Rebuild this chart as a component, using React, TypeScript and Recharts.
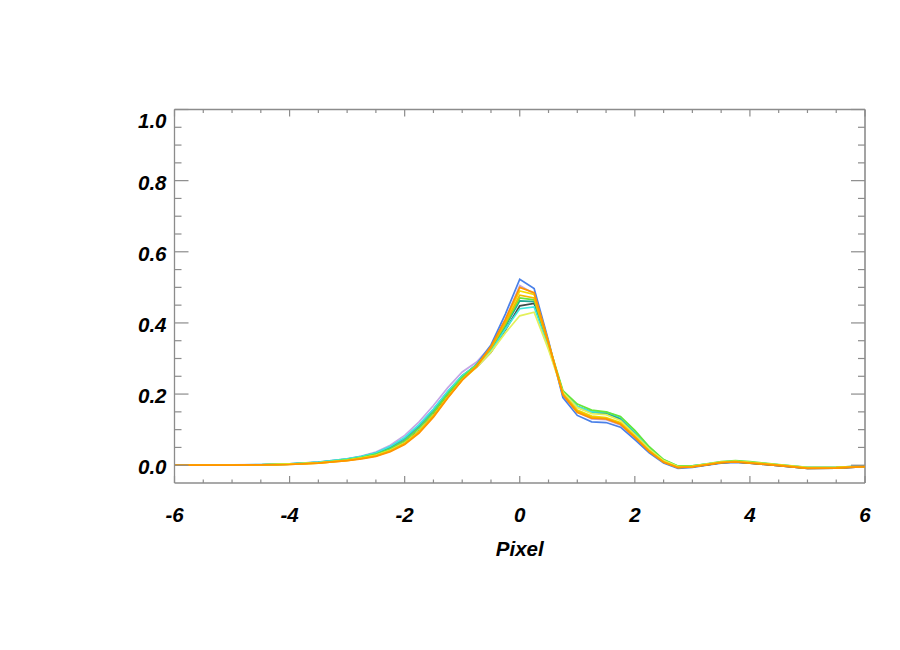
import React from 'react';
import { LineChart, Line, XAxis, YAxis, ReferenceLine, Label } from 'recharts';

const X = [-6, -5.5, -5, -4.5, -4, -3.5, -3, -2.75, -2.5, -2.25, -2, -1.75, -1.5, -1.25, -1, -0.75, -0.5, -0.25, 0, 0.25, 0.5, 0.75, 1, 1.25, 1.5, 1.75, 2, 2.25, 2.5, 2.75, 3, 3.25, 3.5, 3.75, 4, 4.5, 5, 5.5, 6];

const S_LAVENDER = [0.000, 0.000, 0.001, 0.002, 0.004, 0.009, 0.018, 0.026, 0.037, 0.056, 0.084, 0.122, 0.168, 0.218, 0.262, 0.290, 0.335, 0.410, 0.505, 0.482, 0.345, 0.195, 0.150, 0.130, 0.128, 0.113, 0.077, 0.040, 0.012, -0.003, -0.002, 0.003, 0.009, 0.011, 0.008, 0.001, -0.006, -0.006, -0.002];
const S_BLUE = [0.000, 0.000, 0.000, 0.001, 0.003, 0.008, 0.016, 0.023, 0.032, 0.048, 0.071, 0.106, 0.150, 0.202, 0.248, 0.284, 0.338, 0.425, 0.523, 0.497, 0.350, 0.190, 0.140, 0.122, 0.120, 0.107, 0.072, 0.035, 0.006, -0.009, -0.006, 0.000, 0.006, 0.008, 0.006, -0.001, -0.009, -0.008, -0.004];
const S_DARK = [0.000, 0.000, 0.000, 0.001, 0.003, 0.007, 0.015, 0.020, 0.028, 0.042, 0.064, 0.097, 0.142, 0.196, 0.244, 0.276, 0.318, 0.380, 0.448, 0.455, 0.335, 0.205, 0.165, 0.150, 0.148, 0.130, 0.088, 0.045, 0.012, -0.005, -0.004, 0.001, 0.007, 0.009, 0.006, -0.001, -0.009, -0.008, -0.004];
const S_TEAL = [0.000, 0.000, 0.000, 0.001, 0.004, 0.008, 0.017, 0.024, 0.034, 0.051, 0.076, 0.112, 0.157, 0.207, 0.252, 0.282, 0.325, 0.390, 0.462, 0.460, 0.338, 0.205, 0.163, 0.147, 0.146, 0.130, 0.090, 0.047, 0.013, -0.004, -0.003, 0.002, 0.008, 0.010, 0.007, 0.000, -0.008, -0.007, -0.003];
const S_CYAN = [0.000, 0.000, 0.000, 0.002, 0.004, 0.009, 0.018, 0.025, 0.035, 0.053, 0.078, 0.114, 0.158, 0.208, 0.252, 0.282, 0.322, 0.382, 0.440, 0.445, 0.330, 0.205, 0.166, 0.150, 0.150, 0.135, 0.094, 0.050, 0.015, -0.003, -0.002, 0.003, 0.009, 0.011, 0.008, 0.001, -0.007, -0.006, -0.002];
const S_GREEN = [0.000, 0.000, 0.000, 0.001, 0.003, 0.007, 0.016, 0.022, 0.031, 0.046, 0.069, 0.104, 0.149, 0.201, 0.247, 0.282, 0.328, 0.395, 0.470, 0.465, 0.342, 0.210, 0.172, 0.155, 0.150, 0.137, 0.098, 0.052, 0.016, -0.002, -0.002, 0.004, 0.010, 0.013, 0.010, 0.002, -0.006, -0.006, -0.002];
const S_LIGHTYELLOW = [0.000, 0.000, 0.000, 0.001, 0.003, 0.007, 0.014, 0.020, 0.028, 0.042, 0.063, 0.096, 0.140, 0.192, 0.240, 0.275, 0.318, 0.372, 0.420, 0.430, 0.325, 0.205, 0.162, 0.145, 0.142, 0.126, 0.086, 0.045, 0.013, -0.004, -0.003, 0.003, 0.009, 0.011, 0.008, 0.001, -0.007, -0.007, -0.003];
const S_YELLOW = [0.000, 0.000, 0.000, 0.001, 0.003, 0.006, 0.014, 0.020, 0.027, 0.041, 0.062, 0.095, 0.140, 0.193, 0.241, 0.279, 0.332, 0.405, 0.490, 0.480, 0.345, 0.200, 0.155, 0.138, 0.134, 0.120, 0.082, 0.041, 0.010, -0.006, -0.004, 0.002, 0.008, 0.010, 0.007, 0.000, -0.008, -0.007, -0.003];
const S_GOLD = [0.000, 0.000, 0.000, 0.001, 0.002, 0.006, 0.013, 0.019, 0.026, 0.040, 0.060, 0.093, 0.138, 0.191, 0.240, 0.278, 0.330, 0.400, 0.478, 0.470, 0.340, 0.200, 0.152, 0.135, 0.132, 0.117, 0.080, 0.040, 0.009, -0.006, -0.004, 0.002, 0.008, 0.010, 0.007, 0.000, -0.008, -0.007, -0.003];
const S_ORANGE = [0.000, 0.000, 0.000, 0.001, 0.002, 0.006, 0.013, 0.018, 0.025, 0.038, 0.058, 0.090, 0.135, 0.189, 0.239, 0.278, 0.334, 0.410, 0.500, 0.485, 0.345, 0.198, 0.148, 0.132, 0.130, 0.115, 0.078, 0.038, 0.008, -0.007, -0.005, 0.001, 0.007, 0.009, 0.006, -0.001, -0.009, -0.008, -0.004];

const X_TICKS = [-6, -5.5, -5, -4.5, -4, -3.5, -3, -2.5, -2, -1.5, -1, -0.5, 0, 0.5, 1, 1.5, 2, 2.5, 3, 3.5, 4, 4.5, 5, 5.5, 6];
const Y_TICKS = [0, 0.05, 0.1, 0.15, 0.2, 0.25, 0.3, 0.35, 0.4, 0.45, 0.5, 0.55, 0.6, 0.65, 0.7, 0.75, 0.8, 0.85, 0.9, 0.95, 1.0];

const SERIES = [
  { key: 'lavender', color: '#c4a6e6', values: S_LAVENDER },
  { key: 'blue', color: '#4a80e8', values: S_BLUE },
  { key: 'dark', color: '#3c4c48', values: S_DARK },
  { key: 'teal', color: '#20a896', values: S_TEAL },
  { key: 'cyan', color: '#3ee8e0', values: S_CYAN },
  { key: 'green', color: '#66e63a', values: S_GREEN },
  { key: 'lightyellow', color: '#e4f05a', values: S_LIGHTYELLOW },
  { key: 'yellow', color: '#f2dc00', values: S_YELLOW },
  { key: 'gold', color: '#f4b800', values: S_GOLD },
  { key: 'orange', color: '#ff9400', values: S_ORANGE },
];

const data = X.map((x, i) => {
  const row: Record<string, number> = { x };
  SERIES.forEach((s) => {
    row[s.key] = s.values[i];
  });
  return row;
});

const W = 892;
const H = 642;
const M = { top: 101.5, right: 35, left: 165.5, bottom: 166 };
const PW = W - (M.left + 1) - M.right;
const PH = H - M.top - (M.bottom + 1);
const AXIS = '#8c8c8c';
const FONT = { fontFamily: '"Liberation Sans", Arial, sans-serif', fontWeight: 'bold' as const, fontStyle: 'italic' as const, fontSize: 20.5, fill: '#000' };

const XTick = (props: any) => {
  const { x, y, payload } = props;
  const v = payload.value as number;
  const major = Math.abs(v % 2) < 1e-9;
  const len = major ? 7 : 3.5;
  return (
    <g>
      <line x1={x} x2={x} y1={y} y2={y - len} stroke={AXIS} strokeWidth={1.2} />
      <line x1={x} x2={x} y1={y - PH} y2={y - PH + len} stroke={AXIS} strokeWidth={1.2} />
      {major && (
        <text x={x} y={y + 31} textAnchor="middle" dominantBaseline="central" style={FONT}>
          {String(v)}
        </text>
      )}
    </g>
  );
};

const YTick = (props: any) => {
  const { x, y, payload } = props;
  const v = payload.value as number;
  const major = Math.abs(v * 5 - Math.round(v * 5)) < 1e-6;
  const len = major ? 14 : 7;
  const dy = v > 0.99 ? 11 : 1.5;
  return (
    <g>
      <line x1={x} x2={x + len} y1={y} y2={y} stroke={AXIS} strokeWidth={1.2} />
      <line x1={x + PW} x2={x + PW - len} y1={y} y2={y} stroke={AXIS} strokeWidth={1.2} />
      {major && (
        <text x={x - 8} y={y + dy} textAnchor="end" dominantBaseline="central" style={FONT}>
          {v.toFixed(1)}
        </text>
      )}
    </g>
  );
};

export default function App() {
  return (
    <div style={{ width: W, height: H }}>
      <LineChart width={W} height={H} data={data} margin={M}>
        <XAxis
          type="number"
          dataKey="x"
          domain={[-6, 6]}
          ticks={X_TICKS}
          interval={0}
          height={1}
          tickSize={0}
          tickMargin={0}
          tickLine={false}
          axisLine={{ stroke: AXIS, strokeWidth: 1.3 }}
          tick={<XTick />}
          allowDataOverflow
        >
          <Label
            content={(p: any) => {
              const vb = p.viewBox;
              return (
                <text x={vb.x + vb.width / 2} y={vb.y + 65} textAnchor="middle" dominantBaseline="central" style={FONT}>
                  Pixel
                </text>
              );
            }}
          />
        </XAxis>
        <YAxis
          type="number"
          domain={[-0.05, 1.0]}
          ticks={Y_TICKS}
          interval={0}
          width={1}
          tickSize={0}
          tickMargin={0}
          tickLine={false}
          axisLine={{ stroke: AXIS, strokeWidth: 1.3 }}
          tick={<YTick />}
          allowDataOverflow
        />
        <ReferenceLine y={1.0} stroke={AXIS} strokeWidth={1.3} />
        <ReferenceLine x={6} stroke={AXIS} strokeWidth={1.6} />
        {SERIES.map((s) => (
          <Line
            key={s.key}
            type="linear"
            dataKey={s.key}
            stroke={s.color}
            strokeWidth={1.7}
            dot={false}
            activeDot={false}
            isAnimationActive={false}
          />
        ))}
      </LineChart>
    </div>
  );
}
